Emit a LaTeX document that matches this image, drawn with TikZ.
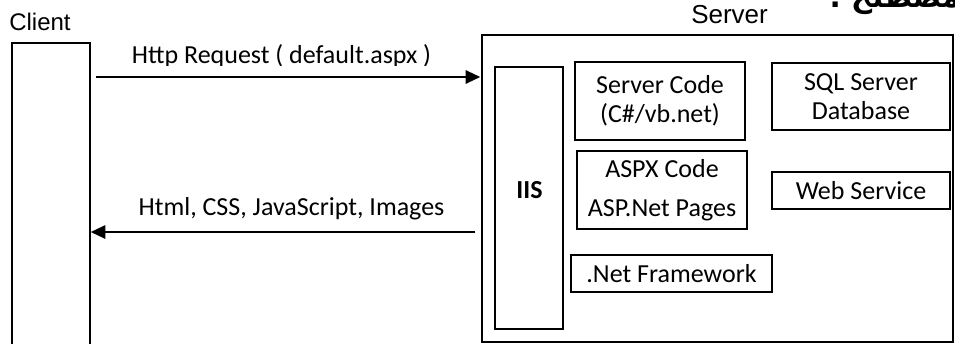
\documentclass[tikz,border=0pt]{standalone}
\usepackage{fontspec}
\setmainfont{Carlito}
\newfontfamily\arialfont{Liberation Sans}
\newfontfamily\arabicfont[Script=Arabic]{DejaVu Sans}
\TeXXeTstate=1
\usetikzlibrary{arrows.meta,calc}
\begin{document}
\begin{tikzpicture}[x=0.75pt,y=-0.75pt,
  box/.style={draw,line width=1.1pt,rectangle,inner sep=0pt},
  txt/.style={font=\fontsize{19.5pt}{21.75pt}\selectfont,align=center},
  arr/.style={line width=1.5pt,-{Triangle[length=11pt,width=10pt]}},
  lbl/.style={font=\arialfont\fontsize{18pt}{20pt}\selectfont,inner sep=0pt}]
\useasboundingbox (0,0) rectangle (955,343);
\fill[white] (0,0) rectangle (955,343);
% client and server
\node[box,minimum width=78*0.75pt,minimum height=320*0.75pt] (client) at (51,203) {};
\node[box,minimum width=471*0.75pt,minimum height=307*0.75pt] (server) at (717.5,188.5) {};
\node[lbl,anchor=base west] (clientlbl) at (9,30) {Client};
\node[lbl,anchor=base west,font=\arialfont\fontsize{19.5pt}{21pt}\selectfont] (serverlbl) at (691,23) {Server};
\node[anchor=base west,inner sep=0pt,font=\arabicfont\bfseries\fontsize{22pt}{24pt}\selectfont] (arab) at (829,7) {\beginR المصطلح :\endR};
% inner boxes
\node[box,minimum width=68*0.75pt,minimum height=262*0.75pt] (iis) at (529,198) {};
\node[txt,font=\bfseries\fontsize{19.5pt}{21.75pt}\selectfont,inner sep=0pt] (iislbl) at (529.5,190) {IIS};
\node[box,txt,minimum width=170*0.75pt,minimum height=78*0.75pt] (code) at (660,101) {Server Code\\(C\#/vb.net)};
\node[box,txt,minimum width=178*0.75pt,minimum height=67*0.75pt] (sql) at (861,96.5) {SQL Server\\Database};
\node[box,txt,font=\fontsize{19.5pt}{29pt}\selectfont,minimum width=170*0.75pt,minimum height=78*0.75pt] (aspx) at (662,190) {ASPX Code\\ASP.Net Pages};
\node[box,txt,minimum width=178*0.75pt,minimum height=37*0.75pt] (web) at (861,190.5) {Web Service};
\node[box,txt,minimum width=201*0.75pt,minimum height=37*0.75pt] (net) at (671.5,273.5) {\beginL\mbox{.}Net Framework\endL};
% arrows
\coordinate (reqy) at (0,77);
\coordinate (resy) at (0,232);
\draw[arr] ($(client.east |- reqy)+(5,0)$) -- ($(server.west |- reqy)+(-1,0)$);
\draw[arr] ($(server.west |- resy)+(-6,0)$) -- (client.east |- resy);
\begin{scope}
\clip (100,30) rectangle (470,65.5);
\node[txt,anchor=base,inner sep=0pt] (req) at (281.5,63) {Http Request ( default.aspx )};
\end{scope}
\node[txt,anchor=base,inner sep=0pt] (res) at (291.5,215) {Html, CSS, JavaScript, Images};
\end{tikzpicture}
\end{document}
